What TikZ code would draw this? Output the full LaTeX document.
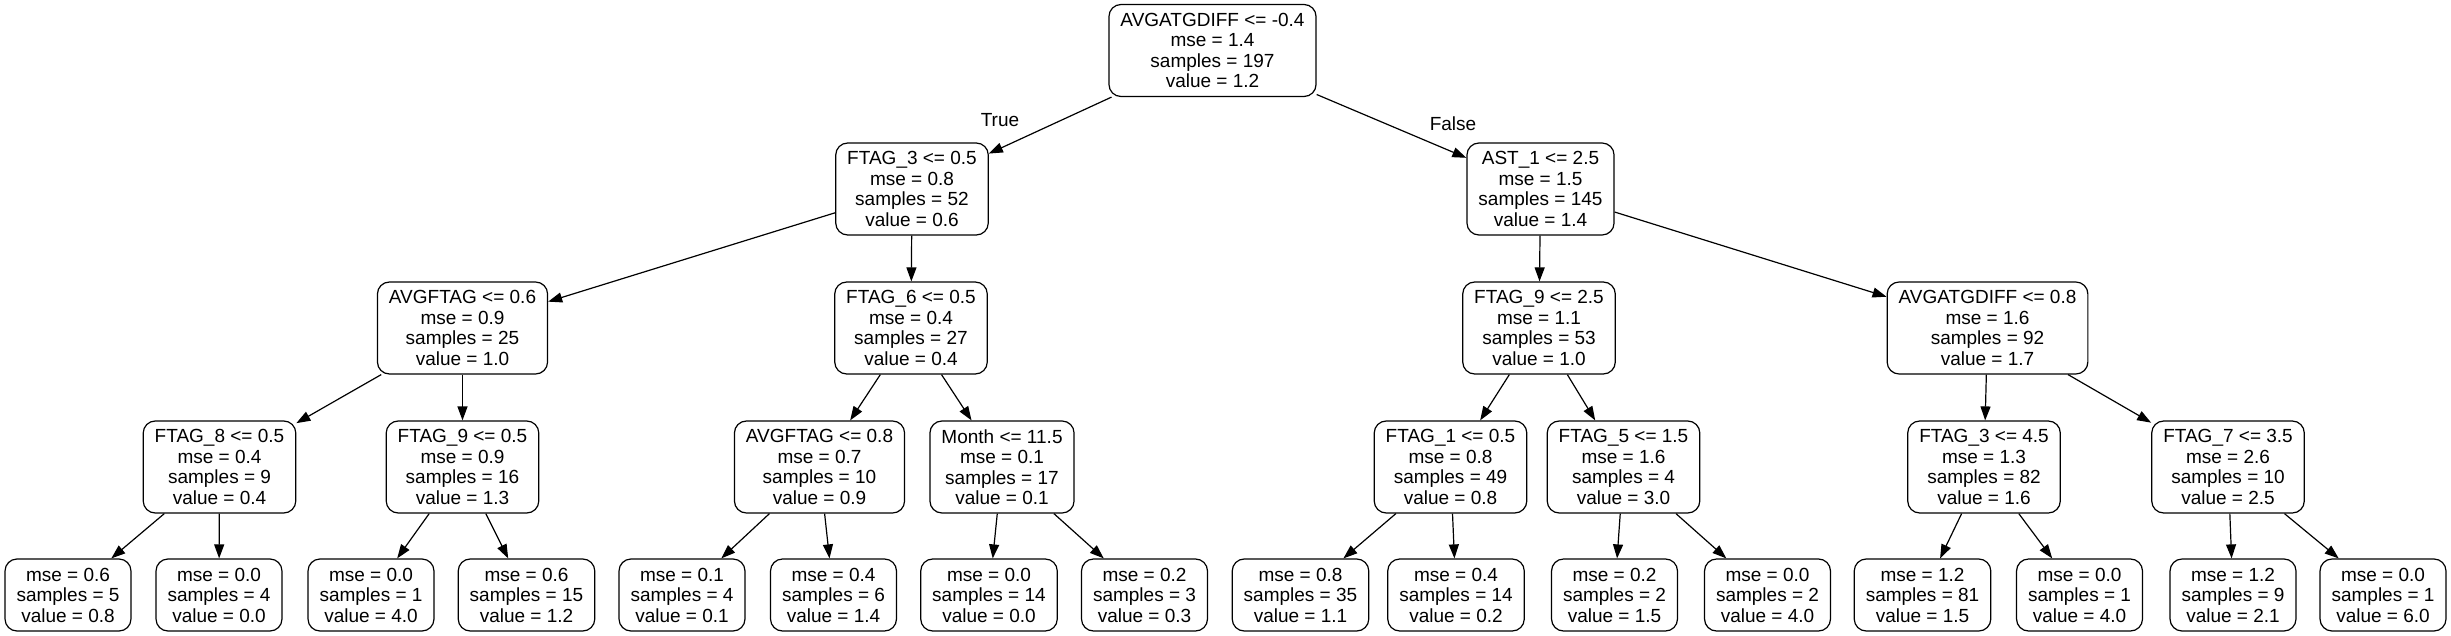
\documentclass[tikz,border=0pt]{standalone}
\usepackage{fontspec}
\setmainfont{Liberation Sans}
\usetikzlibrary{arrows.meta}

\begin{document}
\begin{tikzpicture}[x=1pt, y=-1pt, line width=1.2pt,
    font=\fontsize{19}{20.5}\selectfont,
    split/.style={draw, rounded corners=12pt, align=center, inner xsep=11.5pt, inner ysep=0pt, minimum height=92pt},
    leaf/.style={split, minimum height=72pt},
    edge/.style={-{Triangle[length=14pt,width=10pt]}}]
    \useasboundingbox (0,0) rectangle (2451,636);

    % root
    \node[split] (root) at (1212.5,50.5) {AVGATGDIFF <= -0.4\\mse = 1.4\\samples = 197\\value = 1.2};

    % level 1
    \node[split] (a1) at (912,189) {FTAG\_3 <= 0.5\\mse = 0.8\\samples = 52\\value = 0.6};
    \node[split] (a2) at (1540.5,189) {AST\_1 <= 2.5\\mse = 1.5\\samples = 145\\value = 1.4};

    % level 2
    \node[split] (b1) at (462.5,328) {AVGFTAG <= 0.6\\mse = 0.9\\samples = 25\\value = 1.0};
    \node[split] (b2) at (911,328) {FTAG\_6 <= 0.5\\mse = 0.4\\samples = 27\\value = 0.4};
    \node[split] (b3) at (1539,328) {FTAG\_9 <= 2.5\\mse = 1.1\\samples = 53\\value = 1.0};
    \node[split] (b4) at (1987.5,328) {AVGATGDIFF <= 0.8\\mse = 1.6\\samples = 92\\value = 1.7};

    % level 3
    \node[split] (c1) at (219.5,467) {FTAG\_8 <= 0.5\\mse = 0.4\\samples = 9\\value = 0.4};
    \node[split] (c2) at (462.5,467) {FTAG\_9 <= 0.5\\mse = 0.9\\samples = 16\\value = 1.3};
    \node[split] (c3) at (819.5,467) {AVGFTAG <= 0.8\\mse = 0.7\\samples = 10\\value = 0.9};
    \node[split] (c4) at (1002,467) {Month <= 11.5\\mse = 0.1\\samples = 17\\value = 0.1};
    \node[split] (c5) at (1450.5,467) {FTAG\_1 <= 0.5\\mse = 0.8\\samples = 49\\value = 0.8};
    \node[split] (c6) at (1623.5,467) {FTAG\_5 <= 1.5\\mse = 1.6\\samples = 4\\value = 3.0};
    \node[split] (c7) at (1984,467) {FTAG\_3 <= 4.5\\mse = 1.3\\samples = 82\\value = 1.6};
    \node[split] (c8) at (2228,467) {FTAG\_7 <= 3.5\\mse = 2.6\\samples = 10\\value = 2.5};

    % leaves
    \foreach \x/\m/\s/\v [count=\i] in {68/0.6/5/0.8, 219/0.0/4/0.0, 371/0.0/1/4.0, 526.5/0.6/15/1.2,
        682/0.1/4/0.1, 833.5/0.4/6/1.4, 989/0.0/14/0.0, 1144.5/0.2/3/0.3,
        1300.5/0.8/35/1.1, 1456/0.4/14/0.2, 1614.5/0.2/2/1.5, 1767.5/0.0/2/4.0,
        1922.5/1.2/81/1.5, 2079.5/0.0/1/4.0, 2233/1.2/9/2.1, 2383/0.0/1/6.0}
      \node[leaf] (d\i) at (\x,595) {mse = \m\\samples = \s\\value = \v};

    % edges
    \foreach \p/\c in {root/a1, root/a2, a1/b1, a1/b2, a2/b3, a2/b4,
        b1/c1, b1/c2, b2/c3, b2/c4, b3/c5, b3/c6, b4/c7, b4/c8}
      \draw[edge] (\p) -- (\c);
    \foreach \i [evaluate=\i as \l using int(2*\i-1), evaluate=\i as \r using int(2*\i)] in {1,...,8} {
      \draw[edge] (c\i) -- (d\l);
      \draw[edge] (c\i) -- (d\r);
    }

    % branch labels
    \node (ltrue) at (1000,120) {True};
    \node (lfalse) at (1453,124) {False};
\end{tikzpicture}
\end{document}
